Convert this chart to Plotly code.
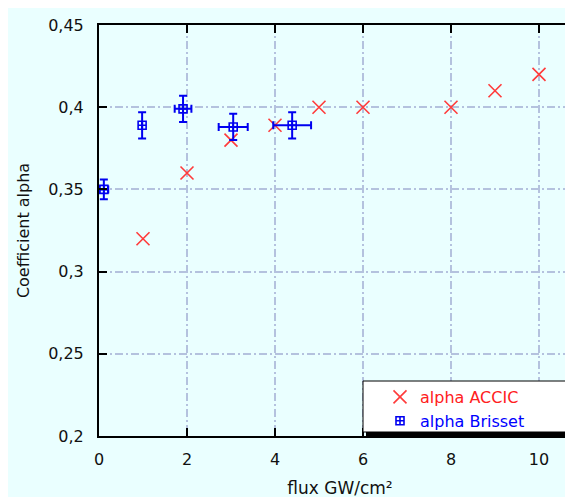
import plotly.graph_objects as go

# ---- data ----
accic_x = [1, 2, 3, 4, 5, 6, 8, 9, 10]
accic_y = [0.32, 0.36, 0.38, 0.389, 0.40, 0.40, 0.40, 0.41, 0.42]

brisset_x = [0.11, 0.98, 1.91, 3.05, 4.39]
brisset_y = [0.35, 0.389, 0.399, 0.388, 0.389]
brisset_xerr = [0.1, 0.0, 0.19, 0.33, 0.43]
brisset_yerr = [0.006, 0.008, 0.008, 0.008, 0.008]

x_ticks = [0, 2, 4, 6, 8, 10]
x_ticklabels = ["0", "2", "4", "6", "8", "10"]
y_ticks = [0.2, 0.25, 0.3, 0.35, 0.4, 0.45]
y_ticklabels = ["0,2", "0,25", "0,3", "0,35", "0,4", "0,45"]

# page is offset by the default 8px body margin
OFF = 8
W, H = 573, 497
L, R, T, B = 91, 0, 17, 69
PW, PH = W - L - R, H - T - B

def px(page_x):  # page pixel x -> paper
    return (page_x - OFF - L) / PW

def py(page_y):  # page pixel y -> paper
    return (H - B - (page_y - OFF)) / PH

FONT = "DejaVu Sans"
RED = "#FF3B3B"
BLUE = "#0000F0"
GRID = "#B4C2DE"

fig = go.Figure()

fig.add_trace(go.Scatter(
    x=accic_x, y=accic_y, mode="markers",
    name='<span style="color:#FF2020">alpha ACCIC</span>',
    marker=dict(symbol="x-thin-open", size=13, color=RED,
                line=dict(color=RED, width=1.6)),
))

fig.add_trace(go.Scatter(
    x=brisset_x, y=brisset_y, mode="markers",
    name='<span style="color:#0000FF">alpha Brisset</span>',
    marker=dict(symbol="square-cross-open", size=8, color=BLUE,
                line=dict(color=BLUE, width=1.6)),
    error_y=dict(type="data", array=brisset_yerr, visible=True,
                 color=BLUE, thickness=2, width=4),
    error_x=dict(type="data", array=brisset_xerr, visible=True,
                 color=BLUE, thickness=2, width=4),
))

shapes = [
    # legend box
    dict(type="rect", xref="paper", yref="paper",
         x0=px(363), x1=px(W + 40), y0=py(432), y1=py(381),
         fillcolor="white", line=dict(color="black", width=1), layer="above"),
    # legend shadow
    dict(type="rect", xref="paper", yref="paper",
         x0=px(366), x1=px(W + 40), y0=py(438), y1=py(432),
         fillcolor="black", line=dict(width=0), layer="above"),
]

fig.update_layout(
    width=W, height=H,
    margin=dict(l=L, r=R, t=T, b=B, pad=0),
    paper_bgcolor="#EAFFFF",
    plot_bgcolor="#EAFFFF",
    font=dict(family=FONT, size=16, color="#111111"),
    showlegend=True,
    legend=dict(x=px(380), y=py(380), xanchor="left", yanchor="top",
                bgcolor="rgba(0,0,0,0)", borderwidth=0,
                font=dict(family=FONT, size=16),
                itemwidth=30, tracegroupgap=0),
    shapes=shapes,
    xaxis=dict(
        range=[0, (W + OFF - 99) / 44.0],
        tickmode="array", tickvals=x_ticks, ticktext=x_ticklabels,
        ticks="inside", ticklen=8, tickwidth=2, tickcolor="black",
        showline=True, linecolor="black", linewidth=2, mirror="ticks",
        showgrid=True, gridcolor=GRID, gridwidth=1.5, griddash="8px,3px,2px,3px",
        zeroline=False,
        tickfont=dict(family=FONT, size=16, color="#111111"),
        ticklabelstandoff=8,
        title=dict(text="flux GW/cm²", font=dict(family=FONT, size=17, color="#111111"),
                   standoff=14),
    ),
    yaxis=dict(
        range=[0.2, 0.45],
        tickmode="array", tickvals=y_ticks, ticktext=y_ticklabels,
        ticks="inside", ticklen=8, tickwidth=2, tickcolor="black",
        showline=True, linecolor="black", linewidth=2, mirror=False,
        showgrid=True, gridcolor=GRID, gridwidth=1.5, griddash="8px,3px,2px,3px",
        zeroline=False,
        tickfont=dict(family=FONT, size=16, color="#111111"),
        ticklabelstandoff=10,
        title=dict(text="Coefficient alpha", font=dict(family=FONT, size=16, color="#111111"),
                   standoff=15),
    ),
)

fig.write_html("out.html")
